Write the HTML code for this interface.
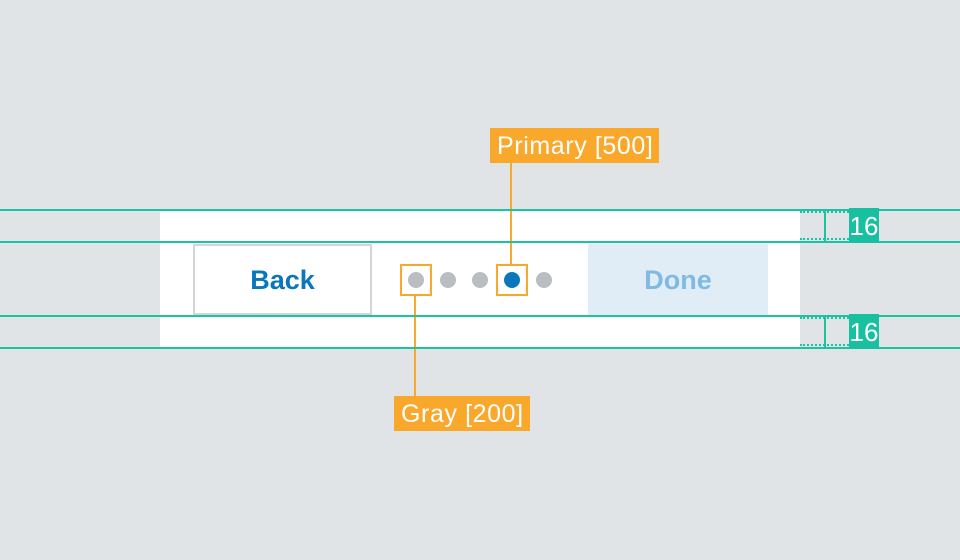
<!DOCTYPE html>
<html><head><style>
body{margin:0;width:960px;height:560px;background:#e0e4e6;position:relative;overflow:hidden;font-family:"Liberation Sans",sans-serif}
div{position:absolute;box-sizing:border-box}
.h{left:0;width:960px;height:2px;background:#1cc3a2}
.dot{width:16px;height:16px;border-radius:50%;background:#babec2;top:272px}
.box{width:32px;height:32px;border:2px solid #f9a82b;top:264px}
.lbl{background:#f9a82b;color:#fff;font-size:25px;line-height:37px;height:35px;padding:0 6px 0 7px;white-space:nowrap;letter-spacing:0.6px}
.badge{background:#18bfa0;color:#fff;font-size:26px;line-height:37px;height:35px;width:30px;text-align:center}
.dash{height:0;border-top:2px dotted #1cc3a2}
</style></head><body>
<div style="left:160px;top:211px;width:640px;height:138px;background:#fff"></div>
<div style="left:193px;top:244px;width:179px;height:71px;border:2px solid #d3d6d8;background:#fff;color:#0a76bc;font-size:27px;font-weight:bold;text-align:center;line-height:69px">Back</div>
<div style="left:588px;top:244px;width:180px;height:71px;background:#e0edf7;color:#80bae2;font-size:27px;font-weight:bold;text-align:center;line-height:73px">Done</div>
<div class="dot" style="left:408px"></div>
<div class="dot" style="left:440px"></div>
<div class="dot" style="left:472px"></div>
<div class="dot" style="left:504px;background:#0a76bc"></div>
<div class="dot" style="left:536px"></div>
<div class="box" style="left:400px"></div>
<div class="box" style="left:496px"></div>
<div style="left:510px;top:163px;width:2px;height:101px;background:#f9a82b"></div>
<div style="left:414px;top:296px;width:2px;height:100px;background:#f9a82b"></div>
<div class="lbl" style="left:490px;top:128px">Primary [500]</div>
<div class="lbl" style="left:394px;top:396px">Gray [200]</div>
<div class="h" style="top:209px"></div>
<div class="h" style="top:241px"></div>
<div class="h" style="top:315px"></div>
<div class="h" style="top:347px"></div>
<div class="dash" style="left:800px;top:211px;width:49px"></div>
<div class="dash" style="left:800px;top:238px;width:49px"></div>
<div class="dash" style="left:800px;top:317px;width:49px"></div>
<div class="dash" style="left:800px;top:344px;width:49px"></div>
<div style="left:824px;top:211px;width:2px;height:30px;background:#1cc3a2"></div>
<div style="left:824px;top:317px;width:2px;height:30px;background:#1cc3a2"></div>
<div class="badge" style="left:849px;top:208px">16</div>
<div class="badge" style="left:849px;top:314px">16</div>
</body></html>
